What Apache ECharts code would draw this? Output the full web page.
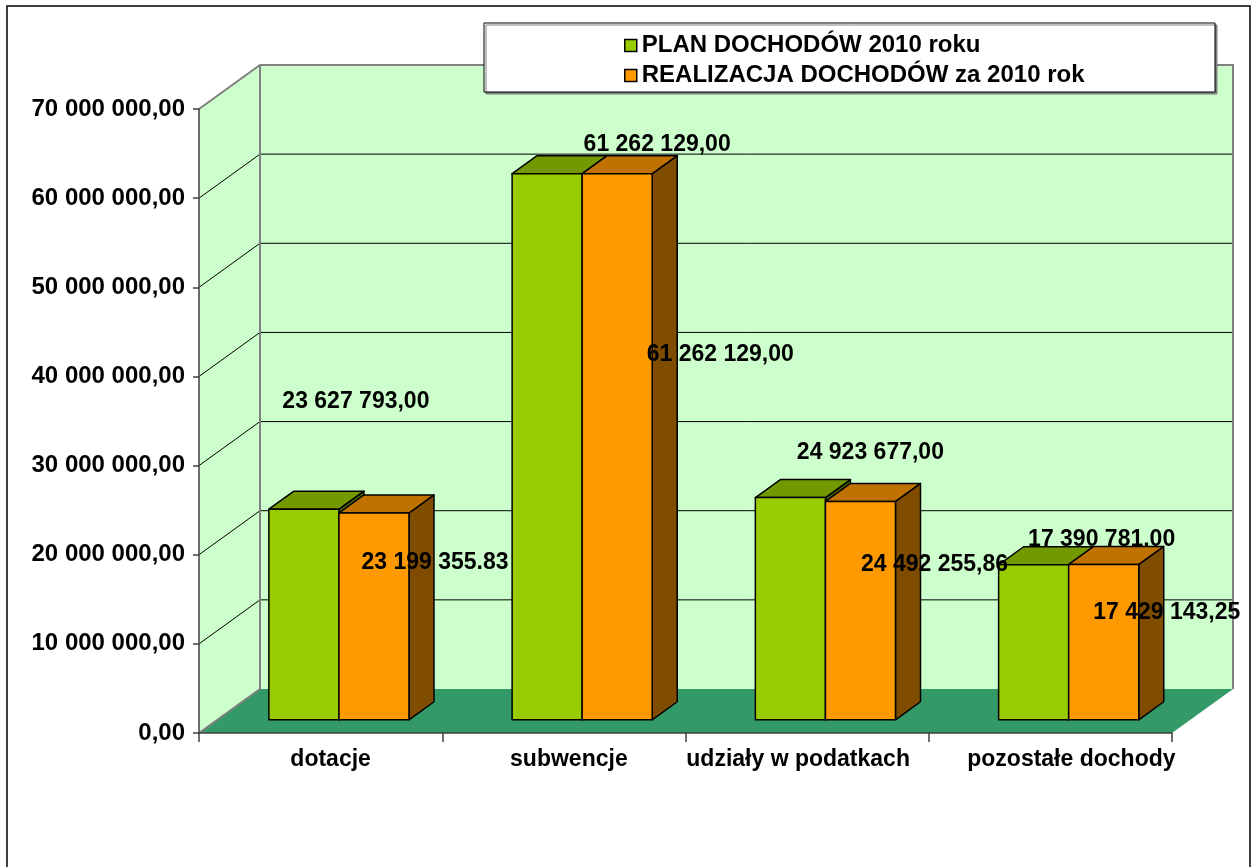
<!DOCTYPE html>
<html>
<head>
<meta charset="utf-8">
<title>Dochody 2010</title>
<script src="https://cdn.jsdelivr.net/npm/echarts@6/dist/echarts.min.js"></script>
<style>
  html, body { margin: 0; padding: 0; background: #fff; }
  #chart { width: 1253px; height: 867px; }
</style>
</head>
<body>
<div id="chart"></div>
<script>
// dane
const categories = ['dotacje', 'subwencje', 'udziały w podatkach', 'pozostałe dochody'];
const planValues = [23627793, 61262129, 24923677, 17390781];
const realValues = [23199355.83, 61262129, 24492255.86, 17429143.25];
const planLabels = ['23 627 793,00', '61 262 129,00', '24 923 677,00', '17 390 781,00'];
const realLabels = ['23 199 355.83', '61 262 129,00', '24 492 255,86', '17 429 143,25'];
const yTicks = [0, 10000000, 20000000, 30000000, 40000000, 50000000, 60000000, 70000000];
const seriesNames = ['PLAN DOCHODÓW 2010 roku', 'REALIZACJA DOCHODÓW za 2010 rok'];

// glebokosc "3D" (px) i polozenie slupkow w glebi
const DX = 61, DY = -44;
const D0 = 0.3, D1 = 0.71;
const FONT = '"Liberation Sans", Arial, sans-serif';

// przesuniecia etykiet wzgledem srodka gornej krawedzi slupka (tak jak w Excelu)
const planShift = [[52, -108], [110, -29], [80, -45], [68, -25]];
const realShift = [[61, 50], [103, 181], [74, 63], [63, 48]];
// przesuniecie poziome podpisow kategorii
const catShift = [10, 5, -9, 21];

function fmtAxis(v) {
  return Math.round(v).toString().replace(/\B(?=(\d{3})+(?!\d))/g, ' ') + ',00';
}

function wallItem(params, api) {
  const cs = params.coordSys;
  const x0 = cs.x, x1 = cs.x + cs.width;
  const yb = api.coord([0, yTicks[0]])[1];
  const yt = api.coord([0, yTicks[yTicks.length - 1]])[1];
  const edge = { stroke: '#808080', lineWidth: 2 };
  const children = [
    { type: 'polygon', shape: { points: [[x0 + DX, yt + DY], [x1 + DX, yt + DY], [x1 + DX, yb + DY], [x0 + DX, yb + DY]] },
      style: { fill: '#CCFFCC', stroke: null } },
    { type: 'polygon', shape: { points: [[x0, yt], [x0 + DX, yt + DY], [x0 + DX, yb + DY], [x0, yb]] },
      style: { fill: '#CCFFCC', stroke: null } },
    { type: 'polygon', shape: { points: [[x0, yb], [x1, yb], [x1 + DX, yb + DY], [x0 + DX, yb + DY]] },
      style: { fill: '#339966', stroke: null } }
  ];
  yTicks.slice(1, -1).forEach(function (t) {
    const y = api.coord([0, t])[1];
    children.push({ type: 'polyline', shape: { points: [[x0, y], [x0 + DX, y + DY], [x1 + DX, y + DY]] },
      style: { stroke: '#000', lineWidth: 1, fill: null } });
  });
  children.push({ type: 'polyline', shape: { points: [[x0, yt], [x0 + DX, yt + DY], [x1 + DX, yt + DY], [x1 + DX, yb + DY]] },
    style: Object.assign({ fill: null }, edge) });
  children.push({ type: 'line', shape: { x1: x0 + DX, y1: yt + DY, x2: x0 + DX, y2: yb + DY }, style: edge });
  children.push({ type: 'line', shape: { x1: x0, y1: yb, x2: x0 + DX, y2: yb + DY }, style: edge });
  return { type: 'group', children: children };
}

function barRenderer(side, colors, labels, shift, labelOnTop) {
  return function (params, api) {
    const i = api.value(0);
    const base = api.coord([i, 0]);
    const top = api.coord([i, api.value(1)]);
    const band = api.size([1, 0])[0];
    const w = band * 0.288;
    const l = base[0] + (side === 0 ? -w : 0);
    const fx = DX * D0, fy = DY * D0, bx = DX * D1, by = DY * D1;
    const st = { stroke: '#000', lineWidth: 1.5, lineJoin: 'round' };
    const front = { type: 'polygon', shape: { points: [[l + fx, top[1] + fy], [l + w + fx, top[1] + fy], [l + w + fx, base[1] + fy], [l + fx, base[1] + fy]] },
      style: Object.assign({ fill: colors[0] }, st) };
    const topFace = { type: 'polygon', shape: { points: [[l + fx, top[1] + fy], [l + w + fx, top[1] + fy], [l + w + bx, top[1] + by], [l + bx, top[1] + by]] },
      style: Object.assign({ fill: colors[1] }, st) };
    const sideFace = { type: 'polygon', shape: { points: [[l + w + fx, top[1] + fy], [l + w + bx, top[1] + by], [l + w + bx, base[1] + by], [l + w + fx, base[1] + fy]] },
      style: Object.assign({ fill: colors[2] }, st) };
    const text = { type: 'text', z2: labelOnTop ? 20 : 0,
      style: { text: labels[i], x: l + fx + w / 2 + shift[i][0], y: top[1] + fy + shift[i][1],
        align: 'center', verticalAlign: 'middle', fill: '#000', font: 'bold 23px ' + FONT } };
    const faces = [sideFace, topFace, front];
    return { type: 'group', children: labelOnTop ? faces.concat([text]) : [text].concat(faces) };
  };
}

const chart = echarts.init(document.getElementById('chart'));
const option = {
  animation: false,
  backgroundColor: '#fff',
  textStyle: { fontFamily: FONT },
  grid: { left: 199, top: 109, width: 973, height: 624, containLabel: false },
  xAxis: {
    type: 'category',
    data: categories.map(function (c, i) {
      const s = catShift[i];
      return { value: c, textStyle: { padding: s >= 0 ? [0, 0, 0, 2 * s] : [0, -2 * s, 0, 0] } };
    }),
    z: 5,
    axisLine: { lineStyle: { color: '#404040', width: 1.5 } },
    axisTick: { show: true, interval: 0, length: 9, lineStyle: { color: '#404040', width: 1.5 } },
    axisLabel: { interval: 0, margin: 15, color: '#000', fontWeight: 'bold', fontSize: 23, fontFamily: FONT },
    splitLine: { show: false }
  },
  yAxis: {
    type: 'value',
    min: 0,
    max: 70000000,
    interval: 10000000,
    z: 5,
    axisLine: { show: true, lineStyle: { color: '#404040', width: 1.5 } },
    axisTick: { show: true, length: 6, lineStyle: { color: '#404040', width: 1.5 } },
    axisLabel: { margin: 14, color: '#000', fontWeight: 'bold', fontSize: 24, fontFamily: FONT, formatter: fmtAxis },
    splitLine: { show: false }
  },
  legend: {
    orient: 'vertical',
    left: 619,
    top: 28,
    z: 12,
    icon: 'rect',
    itemWidth: 12,
    itemHeight: 12,
    itemGap: 5,
    selectedMode: false,
    textStyle: { color: '#000', fontWeight: 'bold', fontSize: 24, fontFamily: FONT, lineHeight: 25 },
    data: [
      { name: seriesNames[0], itemStyle: { color: '#99CC00', borderColor: '#000', borderWidth: 1.5 } },
      { name: seriesNames[1], itemStyle: { color: '#FF9900', borderColor: '#000', borderWidth: 1.5 } }
    ]
  },
  graphic: [
    { type: 'rect', z: 11, shape: { x: 484, y: 23, width: 731, height: 69 },
      style: { fill: '#fff', stroke: '#000', lineWidth: 1, shadowColor: '#808080', shadowOffsetX: 2, shadowOffsetY: 2, shadowBlur: 0 } },
    { type: 'rect', z: 20, shape: { x: 7, y: 6, width: 1243, height: 900 },
      style: { fill: null, stroke: '#000', lineWidth: 1.5 } }
  ],
  series: [
    { type: 'custom', name: 'walls', z: 1, silent: true,
      renderItem: wallItem, data: [[0, 0]], encode: { x: 0, y: 1 } },
    { type: 'custom', name: seriesNames[0], z: 2,
      itemStyle: { color: '#99CC00' },
      renderItem: barRenderer(0, ['#99CC00', '#739900', '#4D6600'], planLabels, planShift, false),
      data: planValues.map(function (v, i) { return [i, v]; }), encode: { x: 0, y: 1 } },
    { type: 'custom', name: seriesNames[1], z: 3,
      itemStyle: { color: '#FF9900' },
      renderItem: barRenderer(1, ['#FF9900', '#C07200', '#804C00'], realLabels, realShift, true),
      data: realValues.map(function (v, i) { return [i, v]; }), encode: { x: 0, y: 1 } }
  ]
};
chart.setOption(option);
</script>
</body>
</html>
